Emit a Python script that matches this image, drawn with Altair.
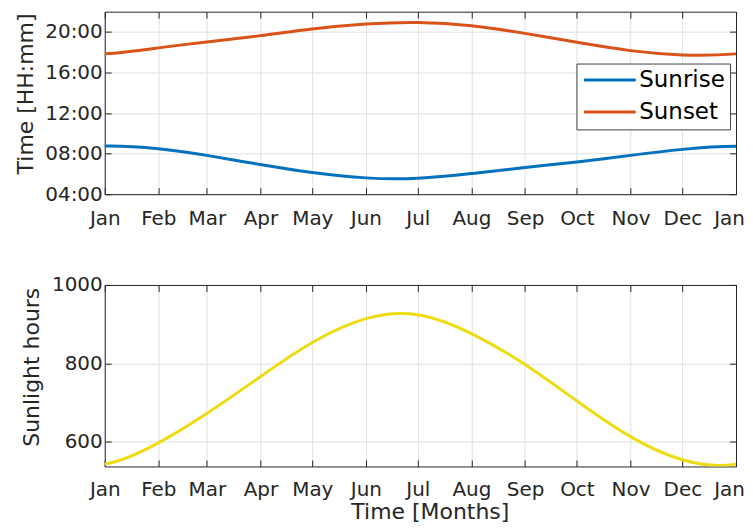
import altair as alt
import pandas as pd

# ---- data (one extra month at each end, outside the axis range,
#      repeats the Dec / Feb readings so the curve stays smooth at the edges) ----
dates = ["2022-12-01", "2023-01-01", "2023-02-01", "2023-03-01", "2023-04-01", "2023-05-01",
         "2023-06-01", "2023-07-01", "2023-08-01", "2023-09-01",
         "2023-10-01", "2023-11-01", "2023-12-01", "2024-01-01", "2024-02-01"]
sunrise = [8.42, 8.75, 8.49, 7.83, 6.92, 6.13, 5.61, 5.58, 6.04, 6.63,
           7.18, 7.83, 8.42, 8.72, 8.49]
sunset = [17.74, 17.84, 18.43, 19.02, 19.64, 20.29, 20.78, 20.94, 20.62, 19.86,
          18.98, 18.16, 17.74, 17.84, 18.43]
sunlight = [554, 543, 597, 672, 766, 853, 914, 924, 876, 797,
            704, 613, 554, 543, 597]
series_names = ["Sunrise", "Sunset"]
series_colors = ["#0072BD", "#D95319"]
sunlight_color = "#EDDC12"
time_ticks = [4, 8, 12, 16, 20]
sunlight_ticks = [600, 800, 1000]
tick_months = [(2023, m) for m in range(1, 13)] + [(2024, 1)]

# ---- tables ----
rows = []
for d, r, s in zip(dates, sunrise, sunset):
    rows.append({"date": d + "T00:00:00", "series": "Sunrise", "value": r})
    rows.append({"date": d + "T00:00:00", "series": "Sunset", "value": s})
times_df = pd.DataFrame(rows)
light_df = pd.DataFrame({"date": [d + "T00:00:00" for d in dates], "value": sunlight})

month_values = [alt.DateTime(year=y, month=m, date=1) for y, m in tick_months]
x_scale = alt.Scale(domain=[alt.DateTime(year=2023, month=1, date=1),
                            alt.DateTime(year=2024, month=1, date=1)], nice=False)

TXT = "#262626"
GRID = "#e0e0e0"
TICK = {"expr": "-6.5"}
INTERP = "natural"
LAST_LABEL_SHIFT = {"condition": {"test": "datum.value >= datetime(2023, 11, 20)", "value": -7},
                    "value": 0}

common_axis = dict(labelFontSize=20, labelColor=TXT, tickColor=TXT, domainColor=TXT,
                   tickSize=TICK, tickWidth=1, gridColor=GRID, gridWidth=1,
                   labelOverlap=False, labelFlush=False)


def x_axis_main(title, lp, title_x=None, title_y=None):
    kw = dict(values=month_values, format="%b", orient="bottom", grid=True,
              labelBaseline="alphabetic", labelPadding=lp, labelOffset=LAST_LABEL_SHIFT,
              **common_axis)
    if title:
        kw.update(title=title, titleFontSize=22, titleFontWeight="normal", titleColor=TXT,
                  titleX=title_x, titleY=title_y, titleBaseline="alphabetic", titleAlign="center")
    else:
        kw.update(title=None)
    return alt.Axis(**kw)


def x_axis_top():
    return alt.Axis(values=month_values, orient="top", labels=False, grid=False, title=None,
                    tickColor=TXT, domainColor=TXT, tickSize=TICK, tickWidth=1)


def y_axis_main(values, title, title_x, title_y, label_expr=None):
    kw = dict(values=values, orient="left", grid=True, labelPadding=9, format="d",
              labelBaseline="middle", title=title, titleFontSize=22, titleFontWeight="normal",
              titleColor=TXT, titleX=title_x, titleY=title_y, titleAngle=-90,
              titleBaseline="alphabetic", titleAlign="center", **common_axis)
    if label_expr:
        kw["labelExpr"] = label_expr
    return alt.Axis(**kw)


def y_axis_right(values):
    return alt.Axis(values=values, orient="right", labels=False, grid=False, title=None,
                    tickColor=TXT, domainColor=TXT, tickSize=TICK, tickWidth=1)


# ---- top panel ----
time_y_scale = alt.Scale(domain=[4, 22], nice=False)
top_lines = alt.Chart(times_df).mark_line(strokeWidth=3, interpolate=INTERP, clip=True).encode(
    x=alt.X("date:T", scale=x_scale, axis=x_axis_main(None, 30 + 6.5)),
    y=alt.Y("value:Q", scale=time_y_scale,
            axis=y_axis_main(time_ticks, "Time [HH:mm]", -72, 82,
                             "(datum.value < 10 ? '0' : '') + datum.value + ':00'")),
    color=alt.Color("series:N",
                    scale=alt.Scale(domain=series_names, range=series_colors),
                    legend=alt.Legend(orient="none", legendX=473, legendY=52, title=None,
                                      symbolType="M-3,0L3,0", symbolSize=300,
                                      symbolStrokeWidth=3, symbolOffset=17,
                                      labelFontSize=23, labelColor="#000000", labelOffset=18,
                                      rowPadding=8, padding=5, strokeColor="#404040",
                                      fillColor="#ffffff", cornerRadius=0)),
)
top_frame = alt.Chart(times_df).mark_line(strokeOpacity=0, clip=True).encode(
    x=alt.X("date:T", scale=x_scale, axis=x_axis_top()),
    y=alt.Y("value:Q", scale=time_y_scale, axis=y_axis_right(time_ticks)),
    detail="series:N",
)
top = alt.layer(top_lines, top_frame).resolve_axis(x="independent", y="independent").properties(
    width=633, height=183)

# ---- bottom panel ----
light_y_scale = alt.Scale(domain=[537, 1000], nice=False)
bottom_line = alt.Chart(light_df).mark_line(strokeWidth=3, interpolate=INTERP, clip=True,
                                            color=sunlight_color).encode(
    x=alt.X("date:T", scale=x_scale, axis=x_axis_main("Time [Months]", 29 + 6.5, 326, 52)),
    y=alt.Y("value:Q", scale=light_y_scale,
            axis=y_axis_main(sunlight_ticks, "Sunlight hours", -66, 82)),
)
bottom_frame = alt.Chart(light_df).mark_line(strokeOpacity=0, clip=True).encode(
    x=alt.X("date:T", scale=x_scale, axis=x_axis_top()),
    y=alt.Y("value:Q", scale=light_y_scale, axis=y_axis_right(sunlight_ticks)),
)
bottom = alt.layer(bottom_line, bottom_frame).resolve_axis(
    x="independent", y="independent").properties(width=633, height=182)

chart = alt.vconcat(top, bottom, spacing=91, bounds="flush").properties(
    padding={"left": 7, "top": 2, "right": 0, "bottom": 0}
).configure(font="DejaVu Sans").configure_view(stroke=None)

chart.save("out.html", embed_options={"renderer": "svg", "actions": False})
